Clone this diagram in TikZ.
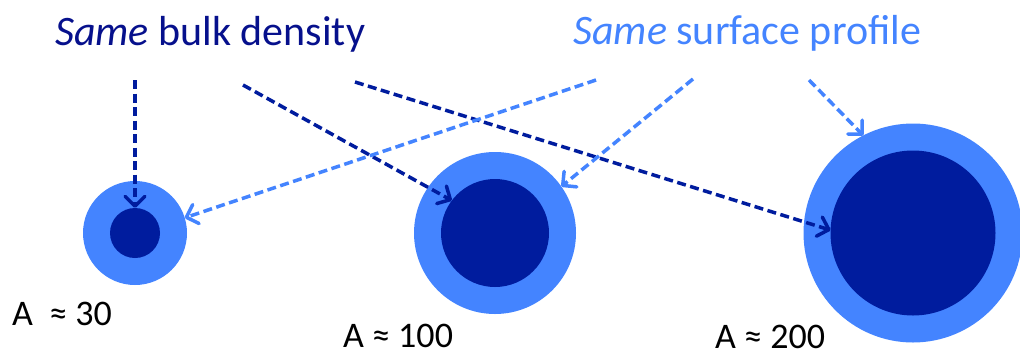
\documentclass[tikz,border=0pt]{standalone}
\usepackage{fontspec}
\setmainfont{Carlito}
\usetikzlibrary{arrows.meta}
\definecolor{lightb}{RGB}{68,132,255}
\definecolor{darkb}{RGB}{0,28,158}
\definecolor{darkt}{RGB}{6,16,140}
\begin{document}
\begin{tikzpicture}[x=1pt,y=-1pt,
  ring/.style={circle,inner sep=0pt,outer sep=0pt,fill=lightb,minimum size=#1},
  core/.style={circle,inner sep=0pt,outer sep=0pt,fill=darkb,minimum size=#1},
  arr/.style={line width=3.5pt,dash pattern=on 9pt off 4.5pt,line cap=butt,
    -{Straight Barb[length=10pt,width=20pt,line cap=round,line join=round]}},
  darr/.style={arr,draw=darkb},
  larr/.style={arr,draw=lightb},
  title/.style={font=\fontsize{42}{48}\selectfont,anchor=base west,inner sep=0pt},
  lab/.style={font=\fontsize{36}{40}\selectfont,anchor=base west,inner sep=0pt,text=black}]
\useasboundingbox (0,0) rectangle (1020,354);
% circles
\node[ring=104pt] (outerS) at (135,233) {};
\node[core=50pt] (innerS) at (135,233) {};
\node[ring=162pt] (outerM) at (495,233) {};
\node[core=108pt] (innerM) at (495,233) {};
\node[ring=219pt] (outerL) at (913,233) {};
\node[core=165pt] (innerL) at (913,233) {};
% titles
\node[title,text=darkt] (t1) at (55,45) {\textit{Same} bulk density};
\node[title,text=lightb] (t2) at (573,44) {\textit{Same} surface profile};
% start points
\coordinate (d1) at (135,80);
\coordinate (d2) at (243,85);
\coordinate (d3) at (355,82);
\coordinate (l1) at (596,80);
\coordinate (l2) at (693,79);
\coordinate (l3) at (809,80);
% arrows
\draw[darr] (d1) -- (innerS.90);
\draw[darr] (d2) -- (innerM.143);
\draw[darr] (d3) -- (innerL.178);
\draw[larr] (l1) -- (outerS.17);
\draw[larr] (l2) -- (outerM.35);
\draw[larr] (l3) -- (outerL.117);
% labels
\node[lab] (a1) at (12,325) {A\ \ ≈ 30};
\node[lab] (a2) at (343,347) {A ≈ 100};
\node[lab] (a3) at (715,348) {A ≈ 200};
\end{tikzpicture}
\end{document}
